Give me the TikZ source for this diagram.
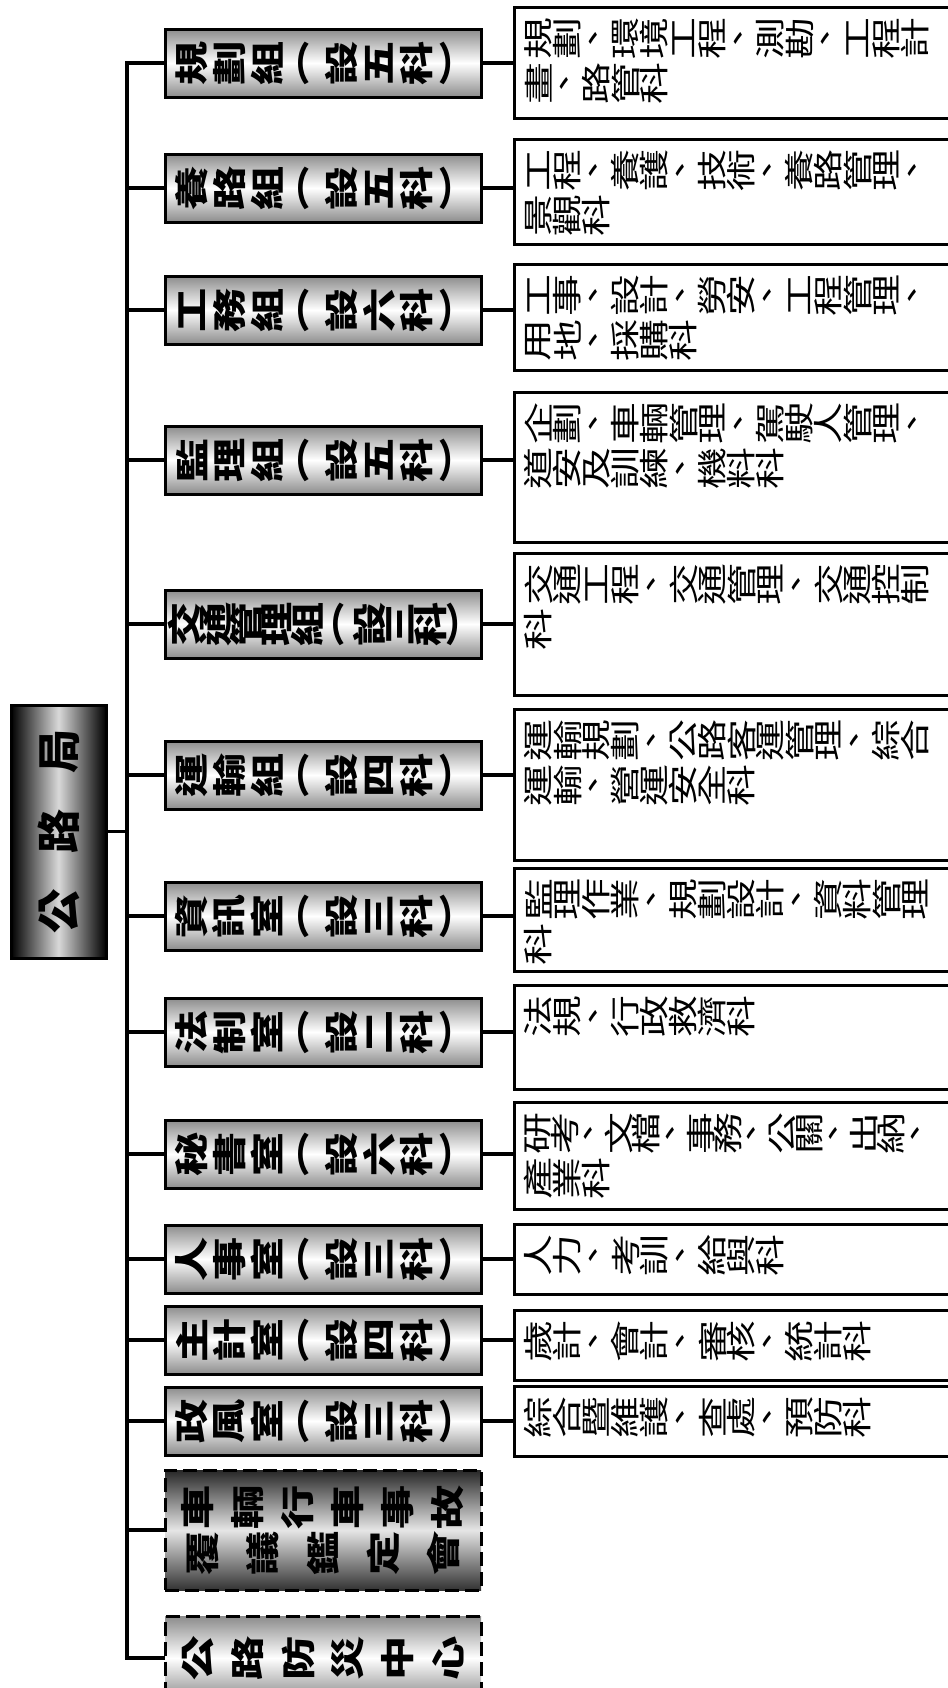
\documentclass[tikz,border=0pt]{standalone}
\usepackage{fontspec}
\setmainfont{Noto Sans CJK TC}
\usepackage{tikz}
\usetikzlibrary{positioning}

\ExplSyntaxOn
\dim_new:N \l_orgcell_dim
% one line of a side box, every character turned
\NewDocumentCommand \orgline { O{14.5pt} m }
  {
    \tl_map_inline:nn {#2}
      { \makebox[#1]{ \rotatebox{90}{ \scalebox{1.4}[1]{##1} } } }
  }
% name of a unit, spread over a given width
\NewDocumentCommand \orgspread { m m }
  {
    \dim_set:Nn \l_orgcell_dim { (#1) / \tl_count:n {#2} }
    \tl_map_inline:nn {#2}
      { \makebox[\l_orgcell_dim]{ \rotatebox{90}{ \scalebox{1.3}[1]{##1} } } }
  }
\ExplSyntaxOff
\newcommand\secbox[2]{\parbox[c][#1][t]{208pt}{\baselineskip=22.5pt\vspace*{5pt}#2}}

\begin{document}
\begin{tikzpicture}[x=0.5pt, y=-0.5pt,
  grp/.style={draw, line width=1.5pt, minimum width=158pt, minimum height=34pt, inner sep=0pt,
    top color=black!45, bottom color=black!45, middle color=white,
    font=\fontsize{17pt}{22pt}\selectfont\bfseries},
  sec/.style={draw, line width=1.5pt, inner xsep=5pt, inner ysep=0pt, fill=white,
    font=\fontsize{15pt}{22.5pt}\selectfont},
  conn/.style={line width=1.6pt, line cap=rect}]
\useasboundingbox (0,0) rectangle (948,1688);

\node[draw, line width=1.5pt, minimum width=47.5pt, minimum height=126.5pt, inner sep=0pt,
  left color=black, right color=black, middle color=black!15,
  font=\fontsize{22pt}{22pt}\selectfont\bfseries] (root) at (58.5,831.5)
  {\rotatebox{90}{\hbox to 120pt{\hfil 公\hfil\hfil 路\hfil\hfil 局\hfil}}};
\coordinate (trunk) at (127,0);

\node[grp] (grp_plan) at (323,63) {\orgspread{150pt}{規劃組︵設五科︶}};
\node[grp] (grp_road) at (323,188) {\orgspread{150pt}{養路組︵設五科︶}};
\node[grp] (grp_works) at (323,310) {\orgspread{150pt}{工務組︵設六科︶}};
\node[grp] (grp_motor) at (323,460) {\orgspread{150pt}{監理組︵設五科︶}};
\node[grp] (grp_traffic) at (323,624) {\orgspread{154pt}{交通管理組︵設三科︶}};
\node[grp] (grp_transport) at (323,775) {\orgspread{150pt}{運輸組︵設四科︶}};
\node[grp] (off_info) at (323,916) {\orgspread{150pt}{資訊室︵設三科︶}};
\node[grp] (off_legal) at (323,1032) {\orgspread{150pt}{法制室︵設二科︶}};
\node[grp] (off_secr) at (323,1154) {\orgspread{150pt}{秘書室︵設六科︶}};
\node[grp] (off_staff) at (323,1259) {\orgspread{150pt}{人事室︵設三科︶}};
\node[grp] (off_account) at (323,1340) {\orgspread{150pt}{主計室︵設四科︶}};
\node[grp] (off_ethics) at (323,1421) {\orgspread{150pt}{政風室︵設三科︶}};
\node[grp, dash pattern=on 7pt off 3pt, minimum height=60pt, align=center,
  top color=black!85, bottom color=black!80, middle color=black!10] (accident) at (323,1530)
  {\orgspread{150pt}{車輛行車事故}\\\orgspread{150pt}{覆議鑑定會}};
\node[grp, dash pattern=on 7pt off 3pt, minimum height=41.5pt] (disaster) at (323,1658)
  {\orgspread{150pt}{公路防災中心}};

\node[sec, right=15pt of grp_plan] (grp_plan_sec)
  {\secbox{55.5pt}{\orgline{規劃、環境工程、測勘、工程計}\\\orgline{畫、路管科}}};
\node[sec, right=15pt of grp_road, yshift=-2pt] (grp_road_sec)
  {\secbox{52.5pt}{\orgline{工程、養護、技術、養路管理、}\\\orgline{景觀科}}};
\node[sec, right=15pt of grp_works, yshift=-3.5pt] (grp_works_sec)
  {\secbox{53pt}{\orgline{工事、設計、勞安、工程管理、}\\\orgline{用地、採購科}}};
\node[sec, right=15pt of grp_motor, yshift=-3.5pt] (grp_motor_sec)
  {\secbox{75pt}{\orgline{企劃、車輛管理、駕駛人管理、}\\\orgline{道安及訓練、機料科}}};
\node[sec, right=15pt of grp_traffic] (grp_traffic_sec)
  {\secbox{71pt}{\orgline{交通工程、交通管理、交通控制}\\\orgline{科}}};
\node[sec, right=15pt of grp_transport, yshift=-5pt] (grp_transport_sec)
  {\secbox{75.5pt}{\orgline{運輸規劃、公路客運管理、綜合}\\\orgline{運輸、營運安全科}}};
\node[sec, right=15pt of off_info, yshift=-2pt] (off_info_sec)
  {\secbox{51.5pt}{\orgline{監理作業、規劃設計、資料管理}\\\orgline{科}}};
\node[sec, right=15pt of off_legal, yshift=-2.5pt] (off_legal_sec)
  {\secbox{52pt}{\orgline{法規、行政救濟科}}};
\node[sec, right=15pt of off_secr, yshift=-1pt] (off_secr_sec)
  {\secbox{53.5pt}{\orgline[13.6pt]{研考、文檔、事務、公關、出納、}\\\orgline{產業科}}};
\node[sec, right=15pt of off_staff] (off_staff_sec)
  {\secbox{35pt}{\orgline{人力、考訓、給與科}}};
\node[sec, right=15pt of off_account, yshift=-2.5pt] (off_account_sec)
  {\secbox{35pt}{\orgline{歲計、會計、審核、統計科}}};
\node[sec, right=15pt of off_ethics] (off_ethics_sec)
  {\secbox{35pt}{\orgline{綜合暨維護、查處、預防科}}};

% trunk and branches
\draw[conn] (grp_plan.west -| trunk) -- (disaster.west -| trunk);
\draw[conn] (root.east) -- (root.east -| trunk);
\draw[conn] (grp_plan.west) -- (grp_plan.west -| trunk);
\draw[conn] (grp_road.west) -- (grp_road.west -| trunk);
\draw[conn] (grp_works.west) -- (grp_works.west -| trunk);
\draw[conn] (grp_motor.west) -- (grp_motor.west -| trunk);
\draw[conn] (grp_traffic.west) -- (grp_traffic.west -| trunk);
\draw[conn] (grp_transport.west) -- (grp_transport.west -| trunk);
\draw[conn] (off_info.west) -- (off_info.west -| trunk);
\draw[conn] (off_legal.west) -- (off_legal.west -| trunk);
\draw[conn] (off_secr.west) -- (off_secr.west -| trunk);
\draw[conn] (off_staff.west) -- (off_staff.west -| trunk);
\draw[conn] (off_account.west) -- (off_account.west -| trunk);
\draw[conn] (off_ethics.west) -- (off_ethics.west -| trunk);
\draw[conn] (accident.west) -- (accident.west -| trunk);
\draw[conn] (disaster.west) -- (disaster.west -| trunk);

% units to their sections
\draw[conn] (grp_plan.east) -- (grp_plan.east -| grp_plan_sec.west);
\draw[conn] (grp_road.east) -- (grp_road.east -| grp_road_sec.west);
\draw[conn] (grp_works.east) -- (grp_works.east -| grp_works_sec.west);
\draw[conn] (grp_motor.east) -- (grp_motor.east -| grp_motor_sec.west);
\draw[conn] (grp_traffic.east) -- (grp_traffic.east -| grp_traffic_sec.west);
\draw[conn] (grp_transport.east) -- (grp_transport.east -| grp_transport_sec.west);
\draw[conn] (off_info.east) -- (off_info.east -| off_info_sec.west);
\draw[conn] (off_legal.east) -- (off_legal.east -| off_legal_sec.west);
\draw[conn] (off_secr.east) -- (off_secr.east -| off_secr_sec.west);
\draw[conn] (off_staff.east) -- (off_staff.east -| off_staff_sec.west);
\draw[conn] (off_account.east) -- (off_account.east -| off_account_sec.west);
\draw[conn] (off_ethics.east) -- (off_ethics.east -| off_ethics_sec.west);
\end{tikzpicture}
\end{document}
